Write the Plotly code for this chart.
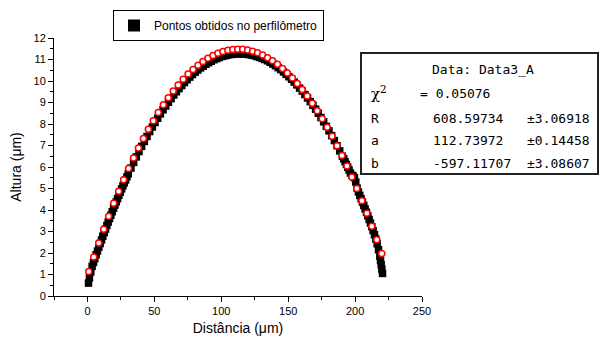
import plotly.graph_objects as go

# Measured profile (black squares)
meas_x = [0.8, 1.5, 2.5, 3.5, 4.5, 5.5, 6.5, 7.5, 8.5, 9.5, 10.5, 11.5, 12.5, 13.5, 14.5,
          15.5, 16.5, 17.5, 18.5, 19.5, 20.5, 21.5, 22.5, 23.5, 24.5, 25.5, 26.5, 27.5,
          28.5, 29.5, 30.5, 32.5, 34.5, 36.5, 38.5, 40.5, 42.5, 44.5, 46.5, 48.5, 50.5,
          52.5, 54.5, 56.5, 58.5, 60.5, 62.5, 64.5, 66.5, 68.5, 70.5, 72.5, 74.5, 76.5,
          78.5, 80.5, 82.5, 84.5, 86.5, 88.5, 90.5, 92.5, 94.5, 96.5, 98.5, 100.5, 102.5,
          104.5, 106.5, 108.5, 110.5, 112.5, 114.5, 116.5, 118.5, 120.5, 122.5, 124.5,
          126.5, 128.5, 130.5, 132.5, 134.5, 136.5, 138.5, 140.5, 142.5, 144.5, 146.5,
          148.5, 150.5, 152.5, 154.5, 156.5, 158.5, 160.5, 162.5, 164.5, 166.5, 168.5,
          170.5, 172.5, 174.5, 176.5, 178.5, 180.5, 182.5, 184.5, 186.5, 188.5, 190.5,
          191.5, 192.5, 193.5, 194.5, 195.5, 196.5, 197.5, 198.5, 199.5, 200.5, 201.5,
          202.5, 203.5, 204.5, 205.5, 206.5, 207.5, 208.5, 209.5, 210.5, 211.5, 212.5,
          213.5, 214.5, 215.5, 216.5, 217.5, 218.5, 219.0, 219.5, 220.0, 220.5]
meas_y = [0.60, 0.85, 1.12, 1.38, 1.56, 1.74, 1.92, 2.09, 2.27, 2.44, 2.61, 2.78, 2.95, 3.11,
          3.28, 3.44, 3.60, 3.76, 3.92, 4.08, 4.23, 4.38, 4.53, 4.68, 4.83, 4.98, 5.12, 5.26,
          5.40, 5.54, 5.68, 5.95, 6.21, 6.47, 6.72, 6.96, 7.19, 7.42, 7.65, 7.86, 8.07, 8.27,
          8.47, 8.66, 8.84, 9.01, 9.18, 9.35, 9.50, 9.65, 9.79, 9.93, 10.06, 10.18, 10.30,
          10.41, 10.51, 10.61, 10.69, 10.78, 10.85, 10.92, 10.99, 11.04, 11.09, 11.14, 11.17,
          11.20, 11.23, 11.24, 11.26, 11.26, 11.26, 11.26, 11.25, 11.23, 11.21, 11.18, 11.14,
          11.10, 11.05, 11.00, 10.94, 10.87, 10.79, 10.71, 10.62, 10.53, 10.42, 10.31, 10.20,
          10.08, 9.95, 9.82, 9.67, 9.53, 9.37, 9.21, 9.04, 8.87, 8.69, 8.50, 8.30, 8.10, 7.89,
          7.68, 7.46, 7.23, 6.99, 6.75, 6.50, 6.38, 6.25, 6.12, 5.99, 5.86, 5.72, 5.62, 5.58,
          5.50, 5.30, 5.02, 4.84, 4.68, 4.52, 4.37, 4.21, 4.05, 3.89, 3.73, 3.56, 3.39, 3.22,
          3.04, 2.85, 2.65, 2.43, 2.15, 1.85, 1.65, 1.45, 1.25, 1.05]

# Circle fit points (red open circles)
fit_x = [1.0, 4.7, 8.4, 12.1, 15.8, 19.6, 23.3, 27.0, 30.7, 34.4, 38.1, 41.8, 45.5, 49.2,
         52.9, 56.7, 60.4, 64.1, 67.8, 71.5, 75.2, 78.9, 82.6, 86.3, 90.0, 93.8, 97.5, 101.2,
         104.9, 108.6, 112.3, 116.0, 119.7, 123.4, 127.1, 130.9, 134.6, 138.3, 142.0, 145.7,
         149.4, 153.1, 156.8, 160.5, 164.2, 168.0, 171.7, 175.4, 179.1, 182.8, 186.5, 190.2,
         193.9, 197.6, 201.3, 205.1, 208.8, 212.5, 216.2, 219.9]
fit_y = [1.135, 1.814, 2.470, 3.102, 3.710, 4.311, 4.872, 5.410, 5.925, 6.417, 6.886, 7.331,
         7.754, 8.154, 8.531, 8.894, 9.225, 9.533, 9.818, 10.081, 10.321, 10.538, 10.733,
         10.905, 11.055, 11.185, 11.289, 11.371, 11.429, 11.466, 11.480, 11.471, 11.440,
         11.387, 11.311, 11.209, 11.087, 10.943, 10.776, 10.587, 10.375, 10.140, 9.883, 9.603,
         9.300, 8.966, 8.617, 8.246, 7.851, 7.434, 6.994, 6.530, 6.044, 5.535, 5.002, 4.431,
         3.852, 3.248, 2.622, 1.972]

legend_name = "Pontos obtidos no perfilômetro"
x_ticks = [0, 50, 100, 150, 200, 250]
y_ticks = list(range(0, 13))

box_title = "Data: Data3_A"
chi_label = "χ<sup>2</sup>"
chi_value = "= 0.05076"
param_names = ["R", "a", "b"]
param_values = ["608.59734", "112.73972", "-597.11707"]
param_errors = ["±3.06918", "±0.14458", "±3.08607"]

# plot area in pixels
L, R_, T, B = 54, 422, 38, 296
W, H = 607, 340


def px(xp):
    return (xp - L) / (R_ - L)


def py(yp):
    return (B - yp) / (B - T)


fig = go.Figure()
fig.add_trace(go.Scatter(
    x=meas_x, y=meas_y, mode="markers", name=legend_name,
    marker=dict(symbol="square", size=7.5, color="black", line=dict(width=0)),
))
fig.add_trace(go.Scatter(
    x=fit_x, y=fit_y, mode="markers", showlegend=False,
    marker=dict(symbol="circle", size=6, color="white", line=dict(color="red", width=1.5)),
))

mono = dict(family="DejaVu Sans Mono", size=13, color="black")
ann = []
ann.append(dict(x=px(483), y=py(69), text=box_title, xanchor="center", yanchor="middle"))
ann.append(dict(x=px(369), y=py(93), text=chi_label, xanchor="left", yanchor="middle",
                font=dict(family="DejaVu Serif", size=15, color="black")))
ann.append(dict(x=px(418), y=py(93), text=chi_value, xanchor="left", yanchor="middle"))
rows_y = [118, 140, 163]
for nm, val, err, yy in zip(param_names, param_values, param_errors, rows_y):
    ann.append(dict(x=px(369), y=py(yy), text=nm, xanchor="left", yanchor="middle"))
    ann.append(dict(x=px(431), y=py(yy), text=val, xanchor="left", yanchor="middle"))
    ann.append(dict(x=px(525), y=py(yy), text=err, xanchor="left", yanchor="middle"))
for a in ann:
    a.setdefault("font", mono)
    a.update(xref="paper", yref="paper", showarrow=False)

fig.update_layout(
    width=W, height=H,
    margin=dict(l=L, r=W - R_, t=T, b=H - B, autoexpand=False),
    paper_bgcolor="white", plot_bgcolor="white",
    font=dict(family="Liberation Sans, Arial", size=11, color="black"),
    showlegend=True,
    legend=dict(x=px(113), y=py(10), xanchor="left", yanchor="top",
                bordercolor="black", borderwidth=1, bgcolor="white",
                font=dict(size=12), itemsizing="constant"),
    annotations=ann,
    shapes=[dict(type="rect", xref="paper", yref="paper",
                 x0=px(361), x1=px(598), y0=py(174), y1=py(53),
                 line=dict(color="#222", width=2), fillcolor="rgba(0,0,0,0)")],
    xaxis=dict(range=[-25, 250], tickvals=x_ticks, ticks="outside", ticklen=5,
               tickwidth=1, tickcolor="black", showline=True, linecolor="black",
               linewidth=1, showgrid=False, zeroline=False,
               minor=dict(dtick=25, tick0=0, ticks="outside", ticklen=3, tickcolor="black"),
               title=dict(text="Distância (μm)", font=dict(size=14), standoff=6)),
    yaxis=dict(range=[0, 12], tickvals=y_ticks, ticks="outside", ticklen=5,
               tickwidth=1, tickcolor="black", showline=True, linecolor="black",
               linewidth=1, showgrid=False, zeroline=False,
               minor=dict(dtick=0.5, tick0=0, ticks="outside", ticklen=3, tickcolor="black"),
               title=dict(text="Altura (μm)", font=dict(size=14), standoff=8)),
)

fig.write_html("out.html", config={"displayModeBar": False},
               post_script="document.body.style.margin='0';document.body.style.overflow='hidden';")
